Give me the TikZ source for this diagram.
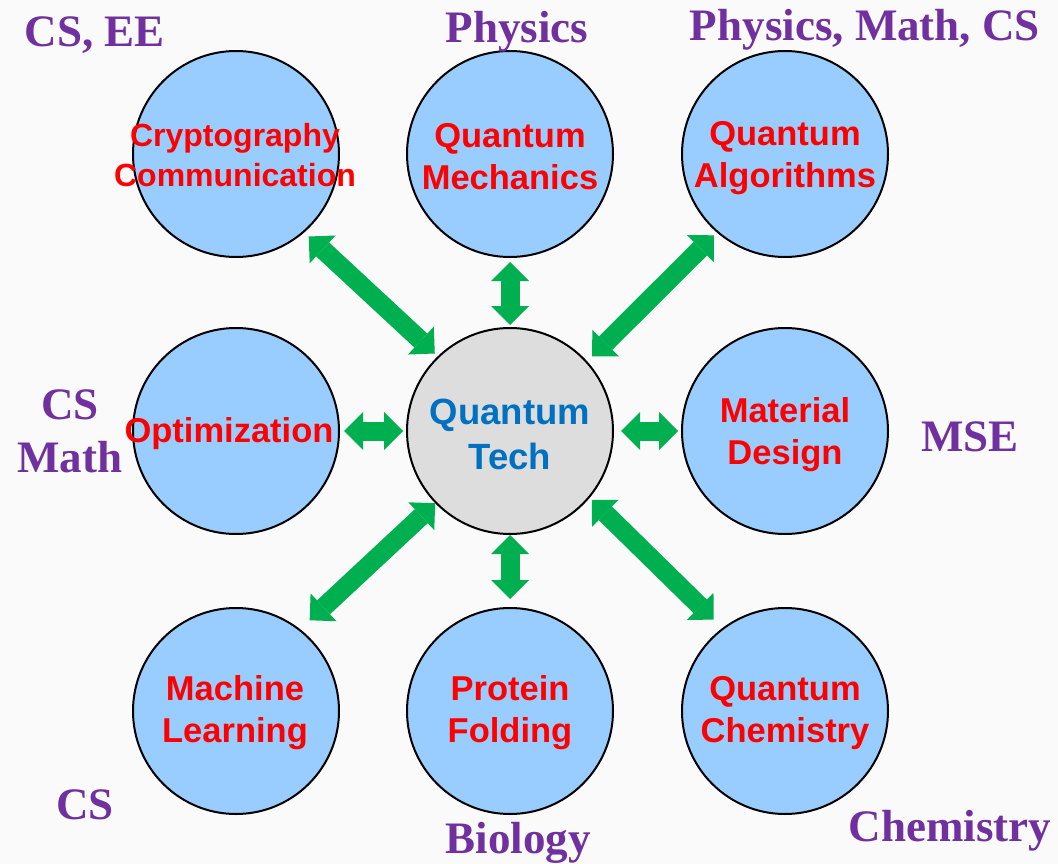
\documentclass[tikz,border=0pt]{standalone}
\usepackage{fontspec}
\setmainfont{Liberation Serif}
\newfontfamily\arialf{Liberation Sans}
\usetikzlibrary{arrows.meta}
\definecolor{bg}{HTML}{FAFAFA}
\definecolor{cblue}{HTML}{99CCFF}
\definecolor{cgray}{HTML}{DDDDDD}
\definecolor{agreen}{HTML}{00B050}
\definecolor{lpurple}{HTML}{7030A0}
\definecolor{tblue}{HTML}{0070C0}
\begin{document}
\begin{tikzpicture}[x=1pt,y=-1pt,
  circ/.style={circle, draw=black, line width=2pt, minimum size=206pt, inner sep=0pt, outer sep=0pt, fill=cblue},
  hub/.style={circ, fill=cgray},
  ctext/.style={text=red, font=\arialf\bfseries\fontsize{34.5}{42}\selectfont, align=center, inner sep=0pt},
  smalltext/.style={ctext, font=\arialf\bfseries\fontsize{32}{40}\selectfont},
  htext/.style={text=tblue, font=\arialf\bfseries\fontsize{36.5}{45}\selectfont, align=center, inner sep=0pt},
  field/.style={text=lpurple, font=\bfseries\fontsize{45}{53}\selectfont, align=center, inner sep=0pt},
  link/.style={draw=agreen, line width=19pt,
    {Triangle[length=19pt,width=38pt,line width=0pt]}-{Triangle[length=19pt,width=38pt,line width=0pt]}}
]
\fill[bg] (0,0) rectangle (1058,864);
\useasboundingbox (0,0) rectangle (1058,864);

\node[circ] (c1) at (236,154) {};
\node[circ] (c2) at (510,154) {};
\node[circ] (c3) at (785,154) {};
\node[circ] (c4) at (236,431) {};
\node[hub]  (hb) at (510,431) {};
\node[circ] (c6) at (785,431) {};
\node[circ] (c7) at (236,711) {};
\node[circ] (c8) at (510,711) {};
\node[circ] (c9) at (785,711) {};

\node[smalltext] (t1) at (235,155) {Cryptography\\Communication};
\node[ctext] (t2) at (510,157) {Quantum\\Mechanics};
\node[ctext] (t3) at (785,158) {Quantum\\Algorithms};
\node[ctext] (t4) at (229,434) {Optimization};
\node[htext] (th) at (510,434) {Quantum\\Tech};
\node[ctext] (t6) at (785,435) {Material\\Design};
\node[ctext] (t7) at (235,713) {Machine\\Learning};
\node[ctext] (t8) at (510,713) {Protein\\Folding};
\node[ctext] (t9) at (785,713) {Quantum\\Chemistry};

\node[field] (f1) at (95,35) {CS, EE};
\node[field] (f2) at (517,32) {Physics};
\node[field] (f3) at (865,30) {Physics, Math, CS};
\node[field] (f4) at (70,431) {CS\\Math};
\node[field] (f6) at (970,437) {MSE};
\node[field] (f7) at (85,805) {CS};
\node[field] (f8) at (518,843) {Biology};
\node[field] (f9) at (950,831) {Chemistry};

\draw[link, shorten <=7pt, shorten >=5pt] (c1.-49) -- (hb.134);
\draw[link, shorten <=5pt, shorten >=3pt] (c2.south) -- (hb.north);
\draw[link, shorten <=5pt, shorten >=8pt] (c3.229) -- (hb.42);
\draw[link, shorten <=5pt, shorten >=4pt] (c4.east) -- (hb.west);
\draw[link, shorten <=4pt, shorten >=8pt] (c6.west) -- (hb.east);
\draw[link, shorten <=14pt, shorten >=1pt] (c7.52) -- (hb.224);
\draw[link, shorten <=9pt, shorten >=1pt] (c8.north) -- (hb.south);
\draw[link, shorten <=13pt, shorten >=4pt] (c9.127) -- (hb.-40);
\end{tikzpicture}
\end{document}
